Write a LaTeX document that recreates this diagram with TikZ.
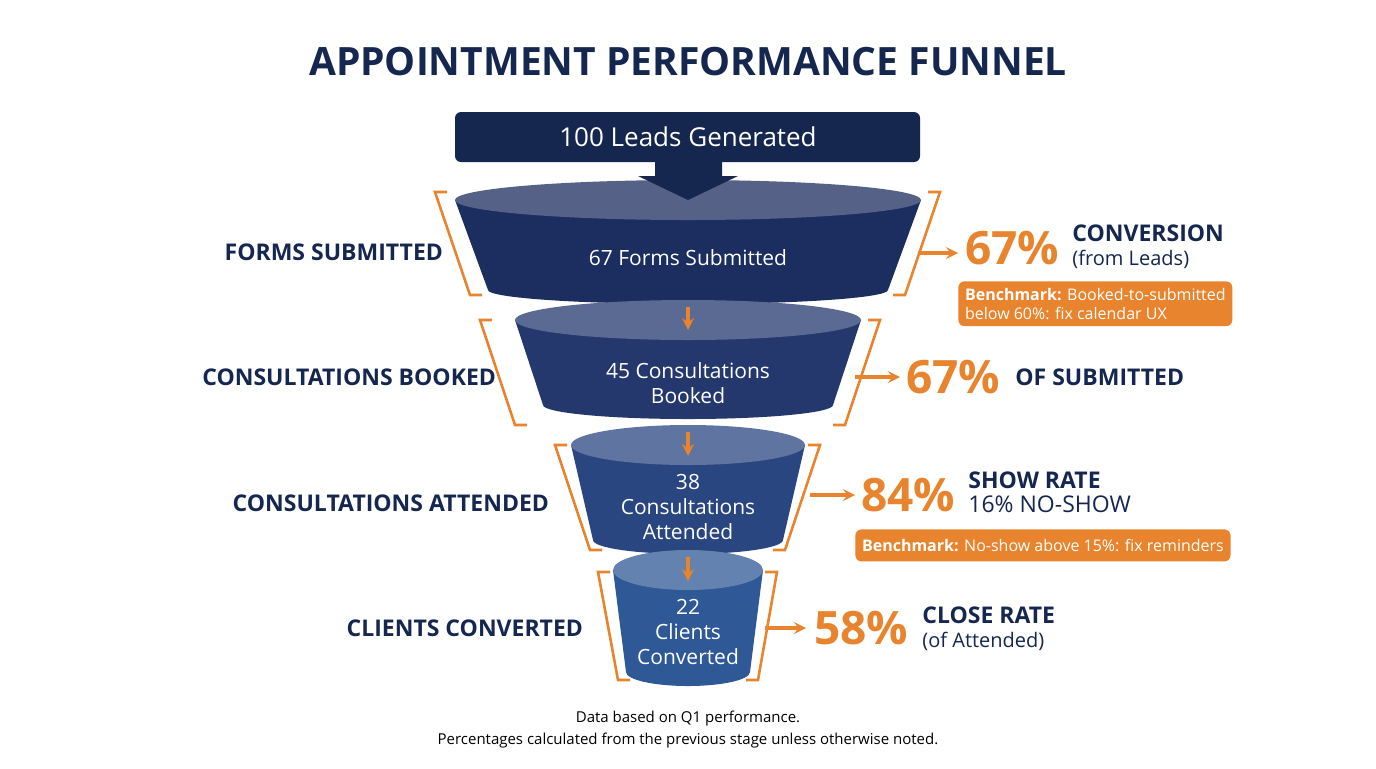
\documentclass[tikz,border=0pt]{standalone}
\usepackage{fontspec}
\setmainfont{Open Sans}
\usetikzlibrary{positioning}
\usetikzlibrary{calc}
\definecolor{navy}{HTML}{15264F}
\definecolor{fone}{HTML}{1C2D5F}
\definecolor{ftwo}{HTML}{24386E}
\definecolor{fthree}{HTML}{2A4680}
\definecolor{ffour}{HTML}{2F5896}
\definecolor{orng}{HTML}{E8842E}
\tikzset{%
  lbl/.style = {font=\bfseries\fontsize{11.5}{14}\selectfont,text=navy,anchor=east},
  stg/.style = {font=\fontsize{10.5}{12.5}\selectfont,text=white,align=center},
  pct/.style = {font=\bfseries\fontsize{23}{26}\selectfont,text=orng,anchor=west,inner sep=0pt},
  note/.style = {font=\fontsize{10}{12}\selectfont,text=navy,anchor=west,align=left,inner sep=0pt},
  brk/.style = {draw=orng,line width=1.3pt},
  oarrow/.style = {-stealth,draw=orng,line width=1.6pt},
  bench/.style = {fill=orng,rounded corners=3pt,text=white,font=\fontsize{8}{9.5}\selectfont,align=left,anchor=north west}
}
% name, y top, rx top, y bottom, rx bottom, colour
\newcommand\funnelstage[6]{%
  \fill[#6] (688-#3,#2) -- (688-#5,#4) arc[start angle=180,end angle=360,x radius=#5*0.5pt,y radius=7pt] -- (688+#3,#2) -- cycle;
  \fill[#6!75!white] (688,#2) ellipse[x radius=#3*0.5pt,y radius=10pt];
  \coordinate (#1) at (688,#2);
}
\newcommand\brackets[6]{% top y, bottom y, left top x, left bottom x, right top x, right bottom x
  \draw[brk] (#3+12,#1) -- (#3,#1) -- (#4,#2) -- (#4+12,#2);
  \draw[brk] (#5-12,#1) -- (#5,#1) -- (#6,#2) -- (#6-12,#2);
}

\begin{document}
\begin{tikzpicture}[x=0.5pt,y=-0.5pt]
\useasboundingbox[fill=white] (0,0) rectangle (1376,768);
\node[font=\bfseries\fontsize{19.5}{23}\selectfont,text=navy] (title) at (688,62) {APPOINTMENT PERFORMANCE FUNNEL};

% stages
\funnelstage{s1}{200}{233}{290}{200}{fone}
\funnelstage{s2}{320}{173}{405}{145}{ftwo}
\funnelstage{s3}{445}{117}{540}{95}{fthree}
\funnelstage{s4}{570}{75}{672}{62}{ffour}

% top box
\fill[navy,rounded corners=3pt] (455,112) rectangle (920,162);
\node[text=white,font=\fontsize{13}{15}\selectfont] (leads) at (688,137) {100 Leads Generated};
\fill[navy] (655,160) -- (722,160) -- (722,176) -- (738,176) -- (688,200) -- (638,176) -- (655,176) -- cycle;

\node[stg] (t1) at (688,258) {67 Forms Submitted};
\node[stg] (t2) at (688,383) {45 Consultations\\Booked};
\node[stg] (t3) at (688,507) {38\\Consultations\\Attended};
\node[stg] (t4) at (688,632) {22\\Clients\\Converted};

% arrows between stages
\coordinate (a1) at (688,307); \coordinate (b1) at (688,330);
\coordinate (a2) at (688,432); \coordinate (b2) at (688,456);
\coordinate (a3) at (688,557); \coordinate (b3) at (688,581);
\foreach \i in {1,2,3} \draw[oarrow] (a\i) -- (b\i);

% brackets
\brackets{192}{295}{435}{470}{940}{905}
\brackets{320}{425}{480}{515}{880}{845}
\brackets{445}{550}{555}{590}{820}{785}
\brackets{572}{680}{598}{618}{777}{758}

% left labels
\node[lbl] (l1) at (450,252) {FORMS SUBMITTED};
\node[lbl] (l2) at (503,377) {CONSULTATIONS BOOKED};
\node[lbl] (l3) at (556,503) {CONSULTATIONS ATTENDED};
\node[lbl] (l4) at (590,628) {CLIENTS CONVERTED};

% right side
\coordinate (r1) at (918,253); \coordinate (e1) at (958,253);
\coordinate (r2) at (855,377); \coordinate (e2) at (900,377);
\coordinate (r3) at (810,495); \coordinate (e3) at (855,495);
\coordinate (r4) at (765,628); \coordinate (e4) at (806,628);
\foreach \i in {1,2,3,4} \draw[oarrow] (r\i) -- (e\i);

\node[pct] (p1) at (965,248) {67\%};
\node[note] (n1) at (1072,247) {\textbf{\fontsize{11.5}{13}\selectfont CONVERSION}\\(from Leads)};
\node[bench] (k1) at (958,281) {\textbf{Benchmark:} Booked-to-submitted\\below 60\%: fix calendar UX};

\node[pct] (p2) at (906,377) {67\%};
\node[note,font=\bfseries\fontsize{11.5}{14}\selectfont] (n2) at (1015,377) {OF SUBMITTED};

\node[pct] (p3) at (861,495) {84\%};
\node[note] (n3) at (968,492) {\textbf{\fontsize{11.5}{13}\selectfont SHOW RATE}\\{\fontsize{11.5}{13}\selectfont 16\% NO-SHOW}};
\node[bench,minimum height=16pt,minimum width=181pt] (k3) at (855,529) {\textbf{Benchmark:} No-show above 15\%: fix reminders};

\node[pct] (p4) at (814,628) {58\%};
\node[note] (n4) at (922,629) {\textbf{\fontsize{11.5}{13}\selectfont CLOSE RATE}\\(of Attended)};

% footer
\node[font=\fontsize{7.5}{11}\selectfont,align=center] (foot) at (688,730) {Data based on Q1 performance.\\Percentages calculated from the previous stage unless otherwise noted.};
\end{tikzpicture}
\end{document}
